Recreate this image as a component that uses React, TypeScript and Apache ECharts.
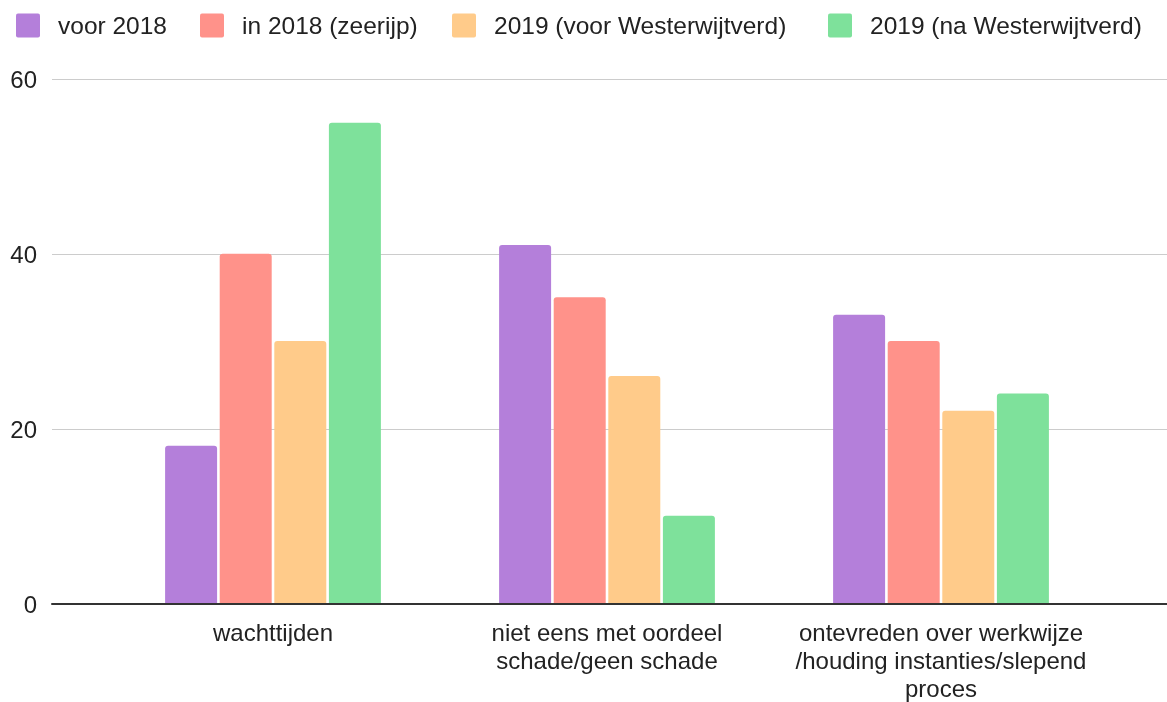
import React, { useEffect, useRef } from "react";
import * as echarts from "echarts";

const categories = [
  "wachttijden",
  "niet eens met oordeel\nschade/geen schade",
  "ontevreden over werkwijze\n/houding instanties/slepend\nproces",
];
const seriesNames = [
  "voor 2018",
  "in 2018 (zeerijp)",
  "2019 (voor Westerwijtverd)",
  "2019 (na Westerwijtverd)",
];
const voor2018 = [18, 41, 33];
const in2018 = [40, 35, 30];
const voorWester2019 = [30, 26, 22];
const naWester2019 = [55, 10, 24];
const colors = ["#b47fda", "#ff928a", "#ffcb8a", "#7ee19b"];
const yMin = 0;
const yMax = 60;
const yInterval = 20;

const legendLefts = [16, 200, 452, 828];

export default function App() {
  const ref = useRef<HTMLDivElement>(null);
  useEffect(() => {
    if (!ref.current) return;
    const chart = echarts.init(ref.current, undefined, { renderer: "svg" });
    const values = [voor2018, in2018, voorWester2019, naWester2019];
    const font = "Arial, 'Liberation Sans', sans-serif";
    const iconPath =
      "path://M2,0 H22 Q24,0 24,2 V22 Q24,24 22,24 H2 Q0,24 0,22 V2 Q0,0 2,0 Z";
    chart.setOption({
      animation: false,
      color: colors,
      textStyle: { fontFamily: font },
      legend: seriesNames.map((name, i) => ({
        left: legendLefts[i],
        top: 13,
        padding: 0,
        icon: iconPath,
        itemWidth: 24,
        itemHeight: 24,
        data: [name],
        textStyle: {
          fontSize: 24.5,
          color: "#222",
          fontFamily: font,
          padding: [0, 0, 0, 13],
        },
      })),
      grid: [
        { left: 52, right: 0, top: 79, bottom: 98 },
        { left: 106, right: 59, top: 79, bottom: 98 },
      ],
      xAxis: [
        {
          gridIndex: 0,
          type: "value",
          min: 0,
          max: 1,
          axisLabel: { show: false },
          axisTick: { show: false },
          splitLine: { show: false },
          axisLine: { show: true, lineStyle: { color: "#333", width: 2 } },
          z: 5,
        },
        {
          gridIndex: 1,
          type: "category",
          data: categories,
          axisLine: { show: false },
          axisTick: { show: false },
          axisLabel: {
            margin: 15,
            fontSize: 24,
            lineHeight: 28,
            color: "#222",
            fontFamily: font,
            interval: 0,
          },
        },
      ],
      yAxis: [
        {
          gridIndex: 0,
          type: "value",
          min: yMin,
          max: yMax,
          interval: yInterval,
          axisLine: { show: false },
          axisTick: { show: false },
          axisLabel: { fontSize: 24, color: "#222", margin: 15, fontFamily: font },
          splitLine: { lineStyle: { color: "#ccc", width: 1 } },
        },
        {
          gridIndex: 1,
          type: "value",
          min: yMin,
          max: yMax,
          interval: yInterval,
          show: false,
          splitLine: { show: false },
        },
      ],
      series: seriesNames.map((name, i) => ({
        name,
        type: "bar",
        xAxisIndex: 1,
        yAxisIndex: 1,
        data: values[i],
        barWidth: 52,
        barGap: "5%",
        itemStyle: { color: colors[i], borderRadius: [3, 3, 0, 0] },
      })),
    });
    return () => chart.dispose();
  }, []);
  return (
    <div
      ref={ref}
      style={{ position: "fixed", left: 0, top: 0, width: 1167, height: 702 }}
    />
  );
}
